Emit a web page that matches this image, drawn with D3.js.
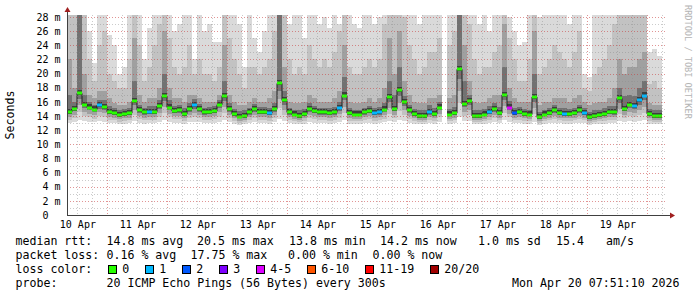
<!DOCTYPE html>
<html><head><meta charset="utf-8">
<script src="https://cdn.jsdelivr.net/npm/d3@7"></script>
<style>
body{margin:0;background:#fff}
svg{display:block}
text{font-family:"DejaVu Sans Mono",monospace;fill:#000}
</style>
</head><body><svg id="c" width="697" height="297"></svg>
<script>
// ---------- data ----------
const startTime = new Date(2026,3,10,7,51,10);
const endTime   = new Date(2026,3,20,7,51,10);
const stepHours = 2;
const median = [
 14.6,15.0,17.2,15.6,15.2,14.9,15.5,15.3,14.6,14.4,
 14.1,14.3,14.4,16.1,14.8,14.5,14.6,14.6,15.4,16.8,
 15.2,14.7,14.8,14.3,15.0,15.5,15.0,14.5,14.6,14.7,
 15.6,16.8,15.0,14.3,13.9,14.0,14.5,15.0,14.6,14.6,
 14.4,15.0,18.6,16.2,14.5,14.2,14.0,14.3,15.0,14.7,
 14.5,14.5,14.4,14.5,15.1,16.9,14.4,14.2,14.2,14.5,
 14.7,14.4,14.5,14.9,16.7,15.0,17.7,16.0,14.8,14.3,
 14.0,14.0,14.5,14.3,15.2,null,14.2,14.4,20.6,15.7,
 16.1,14.0,14.0,14.2,14.6,15.0,14.4,17.0,15.2,14.4,
 14.6,14.3,14.2,16.7,13.8,14.2,14.4,14.8,14.4,14.3,
 14.3,14.4,14.8,14.4,13.8,14.0,14.1,14.3,14.6,14.5,
 16.5,15.0,15.6,15.4,16.2,16.9,14.3,14.0,14.0,null];
const loss = [
 0,0,0,0,0,0,1,0,0,0, 0,0,0,0,0,0,1,0,0,0,
 0,0,0,0,0,1,0,0,0,0, 0,0,0,0,0,0,0,0,0,0,
 1,0,0,0,0,0,0,0,0,0, 0,0,0,0,1,0,0,0,0,0,
 0,1,1,0,0,0,0,0,0,0, 0,0,1,0,0,0,0,0,0,0,
 0,0,0,0,1,0,0,0,4,2, 0,0,0,0,0,0,0,0,0,1,
 0,0,0,1,0,0,0,0,0,0, 0,0,0,1,1,1,0,0,0,0];
const smokeTop = [
 29,29,29,29,26,21.5,29,29,25.5,24,
 20,21,29,29,29,22,26.5,29,29,29,
 29,26,27,29,29,22,29,26,27,24.5,
 24.5,29,29,29,27,21,29,25,23,26,
 29,29,29,29,27,29,29,25,29,29,
 27,28,26.5,29,27,29,29,27,26.5,29,
 29,27,28,29,29,29,29,29,29,29,
 27,29,29,29,29,null,29,29,29,29,
 29,29,27,29,26,29,29,29,28,26,
 24,24.5,29,29,28,29,29,29,29,29,
 27,29,29,20,19.5,29,29,29,29,29,
 29,29,29,29,29,29,23,23.5,22.5,null];
const smokeMid = [
 29,29,29,29,22,19,24,26,20,19,
 18,18,22,29,24,19,21,24,27,29,
 25,21,20,21,24,20,22,20,20,19,
 21,29,25,22,20,18,21,21,20,21,
 22,26,29,29,22,20,21,20,24,22,
 21,22,21,23,26,29,21,20,20,21,
 22,21,22,27,29,29,29,28,24,22,
 20,21,23,23,25,null,24,26,29,29,
 27,22,20,21,21,23,24,29,25,22,
 19,19,22,29,20,21,22,24,23,22,
 21,23,26,18,17.5,20,21,22,24,27,
 29,29,29,29,29,29,18.5,19,18,null];
const smokeInner = [
 22,18,29,20,17,16.5,17.5,17.5,16.5,15.8,
 15.5,15.5,16,25,17,16,16.5,16.5,18,26,
 18,16.5,16.5,16,17,17,16.5,16,16,16,
 17,24,17,16,15.5,15.5,16,16.5,16,16,
 16.5,17.5,29,21,16,15.8,15.8,16,17,16.5,
 16,16,16,16.5,17.5,24,16,15.8,15.8,16,
 16.5,16,16.5,18,25,20,26,19,17,16,
 15.8,15.8,16.5,16.5,17,null,16.5,17,29,24,
 19,16,15.8,16,16.5,17,17,27,18,16.5,
 16,16,16,26,15.5,16,16,16.5,16.5,16.5,
 16,16.5,17,16,15.5,15.8,16,16,16.5,18,
 22,20,21,21,22,23,15.8,15.5,15.5,null];
const smokeCore = [
 17,16,29,17,16,15.6,16.3,16.2,15.4,15.1,
 14.9,15.0,15.2,19,15.6,15.2,15.4,15.4,16.3,20,
 16.2,15.4,15.5,15.1,15.8,16.4,15.7,15.2,15.3,15.4,
 16.3,19,15.9,15.0,14.7,14.8,15.2,15.7,15.3,15.3,
 15.2,15.9,29,17.5,15.2,14.9,14.8,15.0,15.8,15.4,
 15.2,15.2,15.1,15.3,16.0,19.5,15.1,14.9,14.9,15.2,
 15.4,15.2,15.3,15.9,19,17,21,16.8,15.5,15.0,
 14.8,14.8,15.6,15.1,16.0,null,15.0,15.3,29,19,
 17,14.8,14.8,15.0,15.4,15.8,15.3,21,16.1,15.2,
 15.3,15.0,14.9,20,14.6,14.9,15.1,15.5,15.2,15.1,
 15.0,15.2,15.6,15.2,14.6,14.8,14.9,15.1,15.4,15.4,
 18,16.8,17,16.8,18,19,15.0,14.8,14.8,null];
const smokeLow = [
 13.0,13.2,13.4,13.3,13.2,13.1,13.3,13.2,13.0,13.0,
 12.8,12.9,13.0,13.3,13.0,12.9,13.0,13.0,13.2,13.4,
 13.2,13.0,13.0,12.9,13.1,13.2,13.1,13.0,13.0,13.0,
 13.2,13.4,13.1,12.9,12.7,12.8,13.0,13.1,13.0,13.0,
 12.9,13.1,13.6,13.3,13.0,12.9,12.8,12.9,13.1,13.0,
 13.0,13.0,12.9,13.0,13.2,13.4,12.9,12.9,12.9,13.0,
 13.0,12.9,13.0,13.1,13.3,13.2,13.5,13.3,13.0,12.9,
 12.8,12.8,13.0,12.9,13.2,null,12.9,13.0,13.8,13.3,
 13.3,12.8,12.8,12.9,13.0,13.1,13.0,13.4,13.2,13.0,
 13.0,12.9,12.9,13.2,12.7,12.9,13.0,13.0,13.0,12.9,
 12.9,13.0,13.0,13.0,12.7,12.8,12.9,12.9,13.0,13.0,
 13.3,13.2,13.3,13.2,13.3,13.4,12.9,12.8,12.8,null];
const yTicks = [0,2,4,6,8,10,12,14,16,18,20,22,24,26,28];
const xTickDays = [10,11,12,13,14,15,16,17,18,19];
const lossLabels = ["0","1","2","3","4-5","6-10","11-19","20/20"];
const lossColors = ["#26ff00","#00b8ff","#0059ff","#7e00ff","#dd00ff","#ff5500","#ff0000","#a10000"];
const rttStats  = ["14.8 ms avg","20.5 ms max","13.8 ms min","14.2 ms now","1.0 ms sd","15.4","am/s"];
const lossStats = ["0.16 % avg","17.75 % max","0.00 % min","0.00 % now"];
const probeText = "20 ICMP Echo Pings (56 Bytes) every 300s";
const stampText = "Mon Apr 20 07:51:10 2026";

// ---------- layout ----------
const svg = d3.select('#c');
const L = 67, R = 667, T = 15, B = 215;
const x = d3.scaleTime().domain([startTime, endTime]).range([L, R]);
const y = d3.scaleLinear().domain([0, 28.285]).range([B, T]);
const stepMs = stepHours * 3600e3;
const steps = median.map((m, i) => ({
  t0: new Date(+startTime + i * stepMs), t1: new Date(+startTime + (i + 1) * stepMs),
  med: m, loss: loss[i], s1: smokeTop[i], s2: smokeMid[i], s3: smokeInner[i], s4: smokeCore[i], lo: smokeLow[i]
}));
const valid = steps.filter(d => d.med != null);

svg.append('defs').append('clipPath').attr('id', 'clip')
  .append('rect').attr('x', L).attr('y', T).attr('width', R - L).attr('height', B - T);
const gPlot = svg.append('g').attr('clip-path', 'url(#clip)');

const layers = [
  {c: '#dadada', top: d => d.s1, bot: d => d.lo},
  {c: '#c2c2c2', top: d => d.s2, bot: d => d.lo + (d.med - d.lo) * 0.3},
  {c: '#a0a0a0', top: d => d.s3, bot: d => d.lo + (d.med - d.lo) * 0.55},
  {c: '#727272', top: d => d.s4, bot: d => d.lo + (d.med - d.lo) * 0.8},
  {c: '#3e3e3e', top: d => d.med + 0.45, bot: d => d.med - 0.25}
];
layers.forEach(ly => {
  gPlot.append('g').selectAll('rect').data(valid).join('rect')
    .attr('x', d => x(d.t0)).attr('width', d => x(d.t1) - x(d.t0))
    .attr('y', d => y(ly.top(d))).attr('height', d => Math.max(0, y(ly.bot(d)) - y(ly.top(d))))
    .attr('fill', ly.c).attr('shape-rendering', 'crispEdges');
});

// grid
const gGrid = svg.append('g').attr('shape-rendering', 'crispEdges');
const minorH = d3.range(1, 29).filter(v => v % 2 === 1);
const majorH = yTicks.filter(v => v > 0);
gGrid.selectAll('.hmin').data(minorH).join('line')
  .attr('x1', L).attr('x2', R).attr('y1', d => Math.round(y(d)) + 0.5).attr('y2', d => Math.round(y(d)) + 0.5)
  .attr('stroke', 'rgba(140,140,140,0.45)').attr('stroke-dasharray', '1,2');
const days = d3.timeDay.range(startTime, endTime);
const sixes = d3.timeHour.every(6).range(startTime, endTime).filter(d => d.getHours() !== 0);
gGrid.selectAll('.vmin').data(sixes).join('line')
  .attr('y1', T).attr('y2', B).attr('x1', d => Math.round(x(d)) + 0.5).attr('x2', d => Math.round(x(d)) + 0.5)
  .attr('stroke', 'rgba(140,140,140,0.45)').attr('stroke-dasharray', '1,2');
gGrid.selectAll('.hmaj').data(majorH).join('line')
  .attr('x1', L).attr('x2', R).attr('y1', d => Math.round(y(d)) + 0.5).attr('y2', d => Math.round(y(d)) + 0.5)
  .attr('stroke', 'rgba(200,60,60,0.55)').attr('stroke-dasharray', '1,2');
gGrid.selectAll('.vmaj').data(days).join('line')
  .attr('y1', T).attr('y2', B).attr('x1', d => Math.round(x(d)) + 0.5).attr('x2', d => Math.round(x(d)) + 0.5)
  .attr('stroke', 'rgba(200,60,60,0.55)').attr('stroke-dasharray', '1,2');

// median line
const pts = [];
steps.forEach(d => {
  if (d.med == null) { pts.push(null); return; }
  pts.push([x(d.t0), y(d.med)], [x(d.t1), y(d.med)]);
});
gPlot.append('path').attr('d', d3.line().defined(p => p != null)(pts))
  .attr('fill', 'none').attr('stroke', '#202020').attr('stroke-width', 1);
const lossIdx = l => l <= 3 ? l : l <= 5 ? 4 : l <= 10 ? 5 : l <= 19 ? 6 : 7;
gPlot.append('g').selectAll('rect').data(valid).join('rect')
  .attr('x', d => x(d.t0)).attr('width', d => x(d.t1) - x(d.t0))
  .attr('y', d => Math.round(y(d.med)) - 1.5).attr('height', 3)
  .attr('fill', d => lossColors[lossIdx(d.loss)]);

// axes
const yAxis = d3.axisLeft(y).tickValues(yTicks).tickSize(0).tickPadding(6.5)
  .tickFormat(d => d === 0 ? '0  ' : d + ' m');
const gy = svg.append('g').attr('transform', `translate(${L},0)`).call(yAxis);
gy.select('.domain').remove();
gy.selectAll('text').style('font-family', '"DejaVu Sans Mono",monospace').style('font-size', '10px')
  .style('white-space', 'pre').attr('fill', '#000');

const noonDates = xTickDays.map(dd => new Date(2026, 3, dd, 12, 0, 0));
const xAxis = d3.axisBottom(x).tickValues(noonDates).tickSize(0).tickPadding(6)
  .tickFormat(d3.timeFormat('%d %b'));
const gx = svg.append('g').attr('transform', `translate(0,${B})`).call(xAxis);
gx.select('.domain').remove();
gx.selectAll('text').style('font-family', '"DejaVu Sans Mono",monospace').style('font-size', '10px').attr('fill', '#000');

svg.append('line').attr('x1', L + 0.5).attr('x2', L + 0.5).attr('y1', B + 0.5).attr('y2', 11).attr('stroke', '#404040');
svg.append('line').attr('x1', L).attr('x2', 671).attr('y1', B + 0.5).attr('y2', B + 0.5).attr('stroke', '#404040');
svg.append('path').attr('d', `M${L + 0.5},7 L${L - 2.5},12 L${L + 3.5},12 Z`).attr('fill', '#a01f1f');
svg.append('path').attr('d', `M675,${B + 0.5} L670,${B - 2.5} L670,${B + 3.5} Z`).attr('fill', '#a01f1f');

svg.append('text').attr('transform', 'translate(14,115) rotate(-90)').attr('text-anchor', 'middle')
  .style('font-size', '11.6px').text('Seconds');
svg.append('text').attr('transform', 'translate(684.5,5) rotate(90)')
  .style('font-size', '8.6px').style('fill', '#b4b4b4').text('RRDTOOL / TOBI OETIKER');

// legend
const fs = '11.6px';
const rowY = [245, 259, 273, 287];
const addText = (tx, ty, s) => svg.append('text').attr('x', tx).attr('y', ty).style('font-size', fs)
  .style('white-space', 'pre').text(s);
addText(15.5, rowY[0], 'median rtt:');
[106.5, 197, 289, 380, 478, 556, 606].forEach((px, i) => addText(px, rowY[0], rttStats[i]));
addText(15.5, rowY[1], 'packet loss:');
[106.5, 190.5, 288, 372.5].forEach((px, i) => addText(px, rowY[1], lossStats[i]));
addText(15.5, rowY[2], 'loss color:');
let lx = 108.5;
lossLabels.forEach((lab, i) => {
  svg.append('rect').attr('x', lx).attr('y', 265.5).attr('width', 8).attr('height', 8)
    .attr('fill', lossColors[i]).attr('stroke', '#000').attr('stroke-width', 1);
  addText(lx + 13.8, rowY[2], lab);
  lx += 30 + 7 * lab.length;
});
addText(15.5, rowY[3], 'probe:');
addText(106.5, rowY[3], probeText);
addText(512, rowY[3], stampText);
</script>
</body></html>
